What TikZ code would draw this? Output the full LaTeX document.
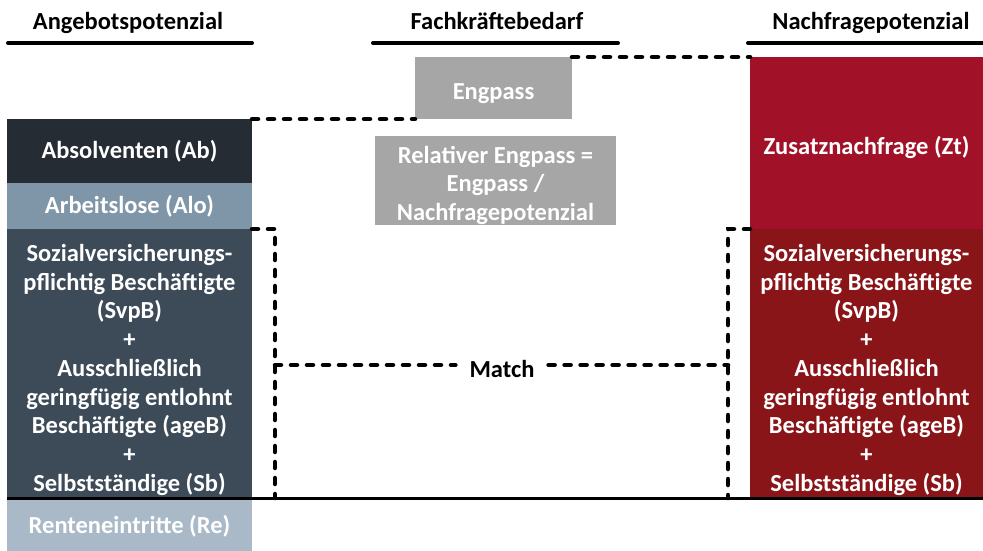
\documentclass[tikz,border=0pt]{standalone}
\usepackage{fontspec}
\setmainfont{Carlito}
\usetikzlibrary{positioning}
\definecolor{abcol}{HTML}{262C33}
\definecolor{alocol}{HTML}{7F96A8}
\definecolor{svpleft}{HTML}{3D4B58}
\definecolor{recol}{HTML}{A9B9C7}
\definecolor{ztcol}{HTML}{A11228}
\definecolor{svpright}{HTML}{8A1519}
\definecolor{engcol}{HTML}{A6A6A6}
\begin{document}
\begin{tikzpicture}[
x=1pt, y=-1pt,
font=\fontsize{24.5}{28.75}\selectfont\bfseries,
box/.style={fill=#1, text=white, align=center, inner sep=0pt, outer sep=0pt},
head/.style={anchor=base, text=black},
headline/.style={line width=4pt, line cap=round},
dashline/.style={line width=4.5pt, line cap=round, dash pattern=on 6pt off 10pt},
baseline/.style={line width=3pt}
]
\useasboundingbox (0,0) rectangle (983,550);

% headers
\node[head] (hangebot) at (128,29) {Angebotspotenzial};
\node[head] (hbedarf) at (497,29) {Fachkräftebedarf};
\node[head] (hnachfr) at (871,29) {Nachfragepotenzial};
\draw[headline] (8,43) -- (252,43);
\draw[headline] (373,43) -- (618,43);
\draw[headline] (748,43) -- (985,43);

% left column
\node[box=abcol, anchor=north west, minimum width=245pt, minimum height=64pt] (ab) at (7,119) {Absolventen (Ab)};
\node[box=alocol, minimum width=245pt, minimum height=46pt, below=0pt of ab] (alo) {Arbeitslose (Alo)};
\node[box=svpleft, minimum width=245pt, minimum height=269pt, below=0pt of alo] (svpl) {\rule{0pt}{30pt}Sozialversicherungs-\\pflichtig Beschäftigte\\(SvpB)\\+\\Ausschließlich\\geringfügig entlohnt\\Beschäftigte (ageB)\\+\\Selbstständige (Sb)};
\node[box=recol, minimum width=245pt, minimum height=52pt, below=2pt of svpl] (re) {Renteneintritte (Re)};

% right column
\node[box=ztcol, anchor=north west, minimum width=233pt, minimum height=172pt] (zt) at (750,57) {\rule{0pt}{28pt}Zusatznachfrage (Zt)};
\node[box=svpright, minimum width=233pt, minimum height=269pt, below=0pt of zt] (svpr) {\rule{0pt}{30pt}Sozialversicherungs-\\pflichtig Beschäftigte\\(SvpB)\\+\\Ausschließlich\\geringfügig entlohnt\\Beschäftigte (ageB)\\+\\Selbstständige (Sb)};

% middle
\node[box=engcol, anchor=north west, minimum width=157pt, minimum height=62pt] (eng) at (415,57) {\rule{0pt}{28pt}Engpass};
\node[box=engcol, anchor=north west, minimum width=241pt, minimum height=89pt] (rel) at (375,136) {\rule{0pt}{27pt}Relativer Engpass =\\Engpass /\\Nachfragepotenzial};

% dashed connections
\draw[dashline] (ab.north east) -- (eng.south west);
\draw[dashline] (eng.north east) -- (zt.north west);
\coordinate (lmid) at (275,365);
\coordinate (rmid) at (728,365);
\node[text=black, inner xsep=14pt] (match) at (502,369) {Match};
\draw[dashline] (svpl.north east) -- (svpl.north east -| lmid) -- (svpl.south east -| lmid);
\draw[dashline] (svpr.north west) -- (svpr.north west -| rmid) -- (svpr.south west -| rmid);
\draw[dashline] (lmid) -- (match.west |- lmid);
\draw[dashline] (match.east |- rmid) -- (rmid);

% base line
\draw[baseline] (svpl.south west) -- (svpr.south east);
\end{tikzpicture}
\end{document}
